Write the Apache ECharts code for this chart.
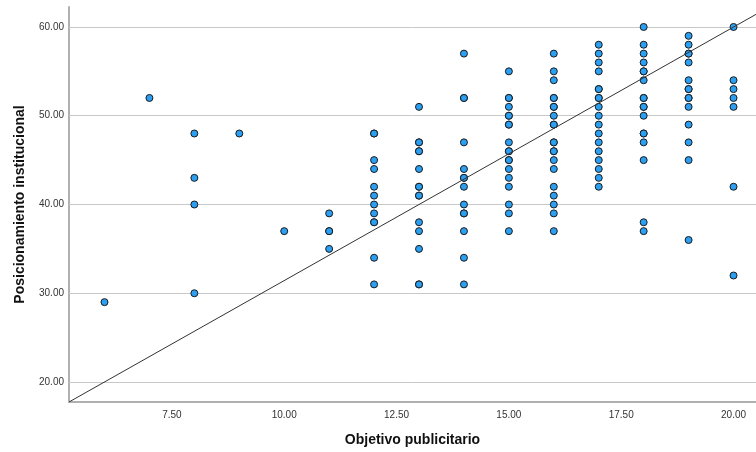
<!DOCTYPE html>
<html>
<head>
<meta charset="utf-8">
<script src="https://cdn.jsdelivr.net/npm/echarts@6/dist/echarts.min.js"></script>
<style>
html,body{margin:0;padding:0;background:#fff;}
#chart{width:756px;height:452px;}
</style>
</head>
<body>
<div id="chart"></div>
<script>
// Objetivo publicitario values (x) and Posicionamiento institucional values (y) grouped by x
const xGroups = [6, 7, 8, 9, 10, 11, 12, 13, 14, 15, 16, 17, 18, 19, 20];
const y6 = [29];
const y7 = [52];
const y8 = [48, 43, 40, 30];
const y9 = [48];
const y10 = [37];
const y11 = [39, 37, 37, 35];
const y12 = [48, 48, 45, 44, 42, 41, 40, 39, 38, 38, 34, 31];
const y13 = [51, 47, 47, 46, 46, 44, 42, 42, 41, 41, 38, 37, 35, 31, 31];
const y14 = [57, 52, 52, 47, 44, 43, 43, 42, 40, 39, 39, 37, 34, 31];
const y15 = [55, 52, 52, 51, 50, 50, 49, 49, 47, 46, 46, 45, 45, 44, 43, 42, 40, 39, 37];
const y16 = [57, 55, 54, 52, 52, 51, 51, 50, 49, 49, 47, 47, 46, 46, 45, 44, 42, 41, 40, 39, 37];
const y17 = [58, 57, 56, 55, 53, 53, 52, 52, 51, 50, 49, 48, 47, 46, 45, 44, 43, 42];
const y18 = [60, 58, 57, 56, 55, 55, 54, 52, 52, 51, 51, 50, 48, 48, 47, 45, 38, 37];
const y19 = [59, 58, 57, 57, 56, 54, 53, 53, 52, 52, 51, 49, 47, 45, 36];
const y20 = [60, 54, 53, 52, 51, 42, 32];
const yGroups = [y6, y7, y8, y9, y10, y11, y12, y13, y14, y15, y16, y17, y18, y19, y20];

const xTicks = [7.5, 10, 12.5, 15, 17.5, 20];
const yTicks = [20, 30, 40, 50, 60];
const xRange = [5.21, 20.5];
const yRange = [17.75, 62.25];
// diagonal reference line endpoints (corner to corner of the full chart frame)
const refLineX = [5.21, 20.79];
const refLineY = [17.75, 62.25];

const points = [];
xGroups.forEach((x, i) => yGroups[i].forEach(y => points.push([x, y])));

const chart = echarts.init(document.getElementById('chart'), null, {renderer: 'canvas'});
const FONT = '"Liberation Sans", Arial, sans-serif';
chart.setOption({
  animation: false,
  backgroundColor: '#ffffff',
  grid: {left: 69, top: 7, bottom: 49, right: 0, containLabel: false},
  xAxis: {
    type: 'value',
    min: xRange[0], max: xRange[1],
    name: 'Objetivo publicitario',
    nameLocation: 'middle',
    nameGap: 31,
    nameTextStyle: {fontFamily: FONT, fontSize: 14, fontWeight: 'bold', color: '#111'},
    axisLine: {show: true, onZero: false, lineStyle: {color: '#b0b0b0', width: 2}},
    axisTick: {show: false, customValues: xTicks},
    axisLabel: {customValues: xTicks, margin: 8, fontFamily: FONT, fontSize: 10, color: '#333',
      formatter: v => v.toFixed(2)},
    splitLine: {show: false}
  },
  yAxis: {
    type: 'value',
    min: yRange[0], max: yRange[1],
    name: 'Posicionamiento institucional',
    nameLocation: 'middle',
    nameGap: 42,
    nameTextStyle: {fontFamily: FONT, fontSize: 14, fontWeight: 'bold', color: '#111'},
    axisLine: {show: true, onZero: false, lineStyle: {color: '#b0b0b0', width: 2}},
    axisTick: {show: false, customValues: yTicks},
    axisLabel: {customValues: yTicks, margin: 5, fontFamily: FONT, fontSize: 10, color: '#333',
      formatter: v => v.toFixed(2)},
    splitLine: {show: false}
  },
  series: [
    {
      type: 'scatter',
      data: points,
      symbol: 'circle',
      symbolSize: 7,
      itemStyle: {color: '#2b9ff2', borderColor: '#1a1a1a', borderWidth: 1, opacity: 1},
      markLine: {
        silent: true,
        symbol: 'none',
        label: {show: false},
        lineStyle: {color: '#c8c8c8', width: 1, type: 'solid'},
        data: yTicks.map(v => ({yAxis: v})),
        z: 1
      },
      z: 3
    },
    {
      type: 'line',
      data: refLineX.map((x, i) => [x, refLineY[i]]),
      symbol: 'none',
      clip: true,
      lineStyle: {color: '#333333', width: 1},
      z: 4
    }
  ]
});
</script>
</body>
</html>
